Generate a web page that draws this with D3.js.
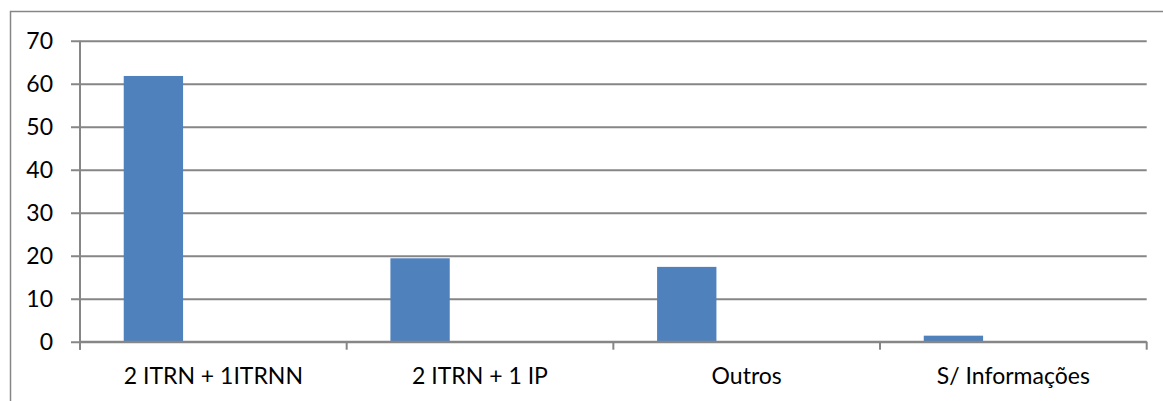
<!DOCTYPE html>
<html>
<head>
<meta charset="utf-8">
<script src="https://cdn.jsdelivr.net/npm/d3@7/dist/d3.min.js"></script>
<style>
  html, body { margin: 0; padding: 0; background: #fff; }
  svg { display: block; }
</style>
</head>
<body>
<svg id="chart" width="1163" height="401"></svg>
<script>
// Chart data
const categories = ["2 ITRN + 1ITRNN", "2 ITRN + 1 IP", "Outros", "S/ Informações"];
const values = [61.8, 19.4, 17.4, 1.4];
const yTicks = [0, 10, 20, 30, 40, 50, 60, 70];

const W = 1163, H = 401;
const plot = { left: 80, right: 1146.7, top: 40.7, bottom: 341.7 };
const gridColor = "#868686";
const barColor = "#4F81BD";
const fontFamily = "Lato, 'Open Sans', sans-serif";

const svg = d3.select("#chart");

// Outer chart frame
svg.append("rect")
  .attr("x", 10.5).attr("y", 11.5)
  .attr("width", W).attr("height", H)
  .attr("fill", "none")
  .attr("stroke", gridColor)
  .attr("stroke-width", 1.5);

const x = d3.scaleBand()
  .domain(categories)
  .range([plot.left, plot.right])
  .paddingInner(0).paddingOuter(0);

const y = d3.scaleLinear()
  .domain([0, 70])
  .range([plot.bottom, plot.top]);

// Horizontal gridlines with left tick marks
const yAxis = d3.axisLeft(y)
  .tickValues(yTicks)
  .tickSize(-(plot.right - plot.left))
  .tickPadding(0)
  .tickFormat(d3.format("d"));

const gy = svg.append("g")
  .attr("transform", `translate(${plot.left},0)`)
  .call(yAxis);
gy.select(".domain").remove();
gy.selectAll(".tick line")
  .attr("x1", -9)
  .attr("stroke", gridColor)
  .attr("stroke-width", 2);
gy.selectAll(".tick text")
  .attr("x", -27)
  .attr("dy", "0.35em")
  .attr("fill", "#000")
  .style("font-family", fontFamily)
  .style("font-size", "23px");

// Bars
const barStart = 0.164, barWidth = 0.2225;
svg.append("g")
  .selectAll("rect")
  .data(values)
  .join("rect")
  .attr("x", (d, i) => x(categories[i]) + x.bandwidth() * barStart)
  .attr("width", x.bandwidth() * barWidth)
  .attr("y", d => y(d))
  .attr("height", d => y(0) - y(d))
  .attr("fill", barColor);

// Vertical axis line
svg.append("line")
  .attr("x1", plot.left).attr("x2", plot.left)
  .attr("y1", plot.top).attr("y2", plot.bottom + 8)
  .attr("stroke", gridColor)
  .attr("stroke-width", 2);

// Category axis with boundary ticks
const gx = svg.append("g")
  .attr("transform", `translate(0,${plot.bottom})`);
gx.append("line")
  .attr("x1", plot.left).attr("x2", plot.right)
  .attr("stroke", gridColor).attr("stroke-width", 2);
const boundaries = categories.map(c => x(c)).concat([x(categories[categories.length - 1]) + x.bandwidth()]);
gx.selectAll("line.bt")
  .data(boundaries)
  .join("line")
  .attr("class", "bt")
  .attr("x1", d => d).attr("x2", d => d)
  .attr("y1", 0).attr("y2", 8)
  .attr("stroke", gridColor).attr("stroke-width", 2);
gx.selectAll("text")
  .data(categories)
  .join("text")
  .attr("x", d => x(d) + x.bandwidth() / 2)
  .attr("y", 34)
  .attr("dy", "0.35em")
  .attr("text-anchor", "middle")
  .attr("fill", "#000")
  .style("font-family", fontFamily)
  .style("font-size", "23px")
  .text(d => d);
</script>
</body>
</html>
